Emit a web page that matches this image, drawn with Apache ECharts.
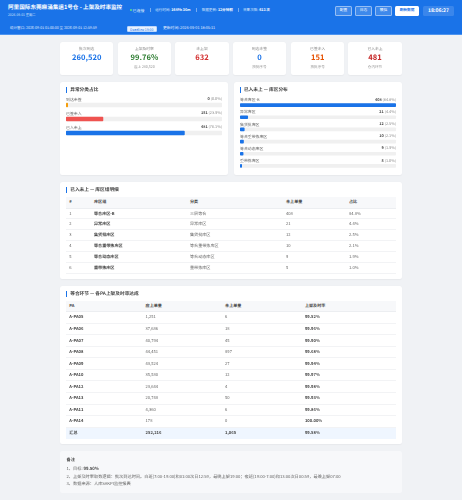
<!DOCTYPE html>
<html><head><meta charset="utf-8">
<script src="https://cdn.jsdelivr.net/npm/echarts@6/dist/echarts.min.js"></script>
<style>
*{box-sizing:border-box}
html,body{margin:0;padding:0;width:462px;height:500px;overflow:hidden;background:#f0f2f5;font-family:"Noto Sans CJK SC","Noto Sans",sans-serif;color:#333;text-rendering:geometricPrecision}
#page{position:absolute;left:0;top:0;width:462px;height:500px;filter:blur(.25px)}
.abs,.card,.panel{position:absolute}
#hdr{left:0;top:0;width:462px;height:35px;background:#1a73e8;border-bottom:1px solid #4d94ef;position:absolute;color:#fff}
.t{position:absolute;white-space:nowrap;line-height:1}
.btn{position:absolute;top:6px;height:9.7px;width:17.5px;border:.5px solid rgba(255,255,255,.45);background:rgba(255,255,255,.16);border-radius:1.5px;color:#fff;font-size:3.7px;line-height:8.7px;text-align:center}
.card{background:#fff;border-radius:2.5px;top:41.7px;height:33.6px;width:53.4px;text-align:center;box-shadow:0 .5px 1.5px rgba(0,0,0,.04)}
.card .a{position:absolute;left:0;right:0;top:6.4px;font-size:3.8px;color:#888;line-height:1}
.card .b{position:absolute;left:0;right:0;top:11.2px;font-size:7.6px;font-weight:700;line-height:1.2}
.card .c{position:absolute;left:0;right:0;top:24.6px;font-size:3.6px;color:#999;line-height:1}
.panel{background:#fff;border-radius:2.5px;box-shadow:0 .5px 1.5px rgba(0,0,0,.04)}
.h{position:absolute;left:6px;font-size:4.7px;font-weight:700;color:#444;border-left:1.1px solid #1a73e8;padding-left:3.2px;line-height:6px;height:6px;white-space:nowrap}
table{position:absolute;left:6px;width:330px;border-collapse:collapse;table-layout:fixed;font-size:4.1px;color:#666}
th{background:#f7f8fa;font-weight:700;text-align:left;color:#444;border-bottom:.7px solid #eceef1;padding:0 0 0 3.3px}
td{border-bottom:.4px solid #f2f3f5;padding:0 0 0 3.3px;white-space:nowrap;overflow:hidden}
td.k{font-weight:700;color:#444}
tr.tot td{background:#eff6ff;font-weight:700;color:#444;border-top:.8px solid #6ea6ee;border-bottom:none}
.chart{position:absolute}
</style></head><body><div id="page">
<div id="hdr">
 <div class="t" style="left:8px;top:5.4px;font-size:5.6px;font-weight:700">阿里国际东莞麻涌集运1号仓 - 上架及时率监控</div>
 <div class="t" style="left:8px;top:13px;font-size:3.3px;color:#cfe2fb">2026-09-01 星期二</div>
 <div class="t" style="left:129.5px;top:9.2px;width:2.2px;height:2.2px;border-radius:50%;background:#5ee08a"></div>
 <div class="t" style="left:132.5px;top:8.5px;font-size:4px;color:#dbe9fd">已连接</div>
 <div class="t" style="left:149.7px;top:8.2px;width:.4px;height:4px;background:rgba(255,255,255,.4)"></div>
 <div class="t" style="left:155px;top:8.7px;font-size:3.6px;color:#dbe9fd">运行时间: <b style="color:#fff">1649h 36m</b></div>
 <div class="t" style="left:196px;top:8.2px;width:.4px;height:4px;background:rgba(255,255,255,.4)"></div>
 <div class="t" style="left:201.7px;top:8.7px;font-size:3.6px;color:#dbe9fd">数据更新: <b style="color:#fff">12分钟前</b></div>
 <div class="t" style="left:237.7px;top:8.2px;width:.4px;height:4px;background:rgba(255,255,255,.4)"></div>
 <div class="t" style="left:243px;top:8.7px;font-size:3.6px;color:#dbe9fd">采集次数: <b style="color:#fff">613 次</b></div>
 <div class="btn" style="left:334.7px">配置</div>
 <div class="btn" style="left:354.7px">日志</div>
 <div class="btn" style="left:374.7px">模拟</div>
 <div class="btn" style="left:394.7px;width:24.7px;background:#fff;color:#1a73e8;font-weight:700">刷新数据</div>
 <div class="btn" style="left:422.7px;width:31.5px;background:rgba(255,255,255,.14);border:none;font-size:5px;font-weight:700;line-height:9.7px">18:06:27</div>
 <div class="t" style="left:10px;top:27.1px;font-size:3.55px;color:#e3eefd">统计窗口: 2026-09-01 01:00:00 至 2026-09-01 12:59:59</div>
 <div class="t" style="left:126.7px;top:25.7px;height:6px;width:30px;background:#e8f1fe;border:.4px solid #bcd6fa;border-radius:1px;color:#1a73e8;font-size:3.4px;line-height:5.2px;text-align:center">Deadline 19:00</div>
 <div class="t" style="left:163px;top:27.1px;font-size:3.8px;color:#e3eefd">更新时间: 2026-09-01 18:05:11</div>
</div>
<div id="cards"></div>
<div class="panel" style="left:60px;top:81.7px;width:168.3px;height:93.3px"><div class="h" style="top:5px">异常分类占比</div></div>
<div class="panel" style="left:233.7px;top:81.7px;width:168.3px;height:93.3px"><div class="h" style="top:5px">已入未上 — 库区分布</div></div>
<div class="chart" id="c1" style="left:60px;top:92.3px;width:168.3px;height:47.7px"></div>
<div class="chart" id="c2" style="left:233.7px;top:93px;width:168.3px;height:78.6px"></div>
<div class="panel" style="left:60px;top:182px;width:342px;height:96.7px">
 <div class="h" style="top:5.3px">已入未上 — 库区组明细</div>
 <table id="t1" style="top:15px"></table>
</div>
<div class="panel" style="left:60px;top:285.5px;width:342px;height:158.5px">
 <div class="h" style="top:5.5px">等合环节 — 各PA上架及时率达成</div>
 <table id="t2" style="top:15.2px"></table>
</div>
<div class="panel" style="left:60px;top:451.3px;width:342px;height:41.4px;background:#f7f8fa;box-shadow:none">
 <div class="t" style="left:6.5px;top:6.3px;font-size:4.2px;font-weight:700;color:#444">备注</div>
 <div class="t" style="left:6.5px;top:15.9px;font-size:4.2px;color:#666">1、目标: <b style="color:#444">99.50%</b></div>
 <div class="t" style="left:6.5px;top:23.4px;font-size:4.2px;color:#666">2、上架及时率取数逻辑：批次到达时间。白班(7:00-19:00)和01:00次日12:59，最晚上架19:00；夜班(19:00-7:00)和13:00次日00:59，最晚上架07:00</div>
 <div class="t" style="left:6.5px;top:30.9px;font-size:4.2px;color:#666">3、数据来源：人库SAKPI监控报表</div>
</div>
</div>
<script>
// KPI cards
const kpiLabels = ['批次到达','上架及时率','未上架','到达未签','已签未入','已入未上'];
const kpiValues = ['260,520','99.76%','632','0','151','481'];
const kpiNotes = ['','应上 260,520','','按批序号','按批序号','仓内环节'];
const kpiColors = ['#1a73e8','#2e7d32','#d32f2f','#1a73e8','#e65100','#c62828'];
// Exception type bars
const typeNames = ['到达未签','已签未入','已入未上'];
const typeValues = [0,151,481];
const typePct = ['0.0%','23.9%','76.1%'];
const typeColors = ['#f59e0b','#ef5350','#1a73e8'];
const typeMax = 632;
// Zone bars
const zoneNames = ['等合库区-B','异常库区','集货批库区','等合重带拣库区','等合动态库区','重带拣库区'];
const zoneValues = [408,21,12,10,9,5];
const zonePct = ['84.8%','4.4%','2.5%','2.1%','1.9%','1.0%'];
const zoneCats = ['三层等合','异常库区','集货批库区','等合重带拣库区','等合动态库区','重带拣库区'];
// PA table
const paNames = ['A-PA05','A-PA06','A-PA07','A-PA08','A-PA09','A-PA10','A-PA12','A-PA13','A-PA11','A-PA14'];
const paDue = ['1,251','37,686','40,794','44,451','43,524','35,580','23,644','20,748','4,360','178'];
const paLate = ['6','18','45','897','27','12','4','50','6','0'];
const paRate = ['99.52%','99.96%','99.90%','99.68%','99.94%','99.97%','99.98%','99.93%','99.86%','100.00%'];
const paTotal = ['汇总','252,216','1,065','99.58%'];

const L=[60,117.7,175.3,232.7,291,348.3];
document.getElementById('cards').innerHTML=kpiLabels.map((l,i)=>`<div class="card" style="left:${L[i]}px"><div class="a">${l}</div><div class="b" style="color:${kpiColors[i]}">${kpiValues[i]}</div><div class="c">${kpiNotes[i]}</div></div>`).join('');

document.getElementById('t1').innerHTML='<colgroup><col style="width:24.7px"><col style="width:96px"><col style="width:96px"><col style="width:63px"><col></colgroup>'
 +'<tr style="height:11.1px"><th>#</th><th>库区组</th><th>分类</th><th>未上单量</th><th>占比</th></tr>'
 +zoneNames.map((n,i)=>`<tr style="height:10.9px"><td>${i+1}</td><td class="k">${n}</td><td>${zoneCats[i]}</td><td>${zoneValues[i]}</td><td>${zonePct[i]}</td></tr>`).join('');
document.getElementById('t2').innerHTML='<colgroup><col style="width:76.3px"><col style="width:79.5px"><col style="width:79.8px"><col></colgroup>'
 +'<tr style="height:11px"><th>PA</th><th>应上单量</th><th>未上单量</th><th>上架及时率</th></tr>'
 +paNames.map((n,i)=>`<tr style="height:11.55px"><td class="k">${n}</td><td>${paDue[i]}</td><td>${paLate[i]}</td><td class="k">${paRate[i]}</td></tr>`).join('')
 +`<tr class="tot" style="height:11.6px">${paTotal.map(v=>`<td>${v}</td>`).join('')}</tr>`;

function bars(id,names,vals,pcts,cols,max,bw){
 const el=document.getElementById(id);
 const ch=echarts.init(el,null,{renderer:'svg'});
 const F='"Noto Sans CJK SC","Noto Sans",sans-serif';
 ch.setOption({animation:false,
  grid:{left:6,right:6,top:6,bottom:0},
  xAxis:{type:'value',min:0,max:max,show:false},
  yAxis:{type:'category',data:names,inverse:true,show:false},
  series:[
   {type:'bar',data:vals.map(()=>max),barWidth:bw,silent:true,z:1,barGap:'-100%',
    itemStyle:{color:'#f0f0f0',borderRadius:.8},
    label:{show:true,position:['100%',-4.9],align:'right',fontSize:3.8,fontFamily:F,color:'#888',
      formatter:p=>`{b|${vals[p.dataIndex]}} (${pcts[p.dataIndex]})`,
      rich:{b:{fontSize:3.8,fontWeight:700,color:'#444',fontFamily:F}}}},
   {type:'bar',data:vals.map((v,i)=>({value:v,itemStyle:{color:Array.isArray(cols)?cols[i]:cols}})),barWidth:bw,barMinHeight:2,silent:true,z:2,
    itemStyle:{borderRadius:.8},
    label:{show:true,position:[0,-4.9],align:'left',fontSize:3.9,fontFamily:F,color:'#666',formatter:p=>names[p.dataIndex]}}
  ]});
}
bars('c1',typeNames,typeValues,typePct,typeColors,typeMax,4.6);
bars('c2',zoneNames,zoneValues,zonePct,'#1a73e8',408,3.7);
</script>
</body></html>
